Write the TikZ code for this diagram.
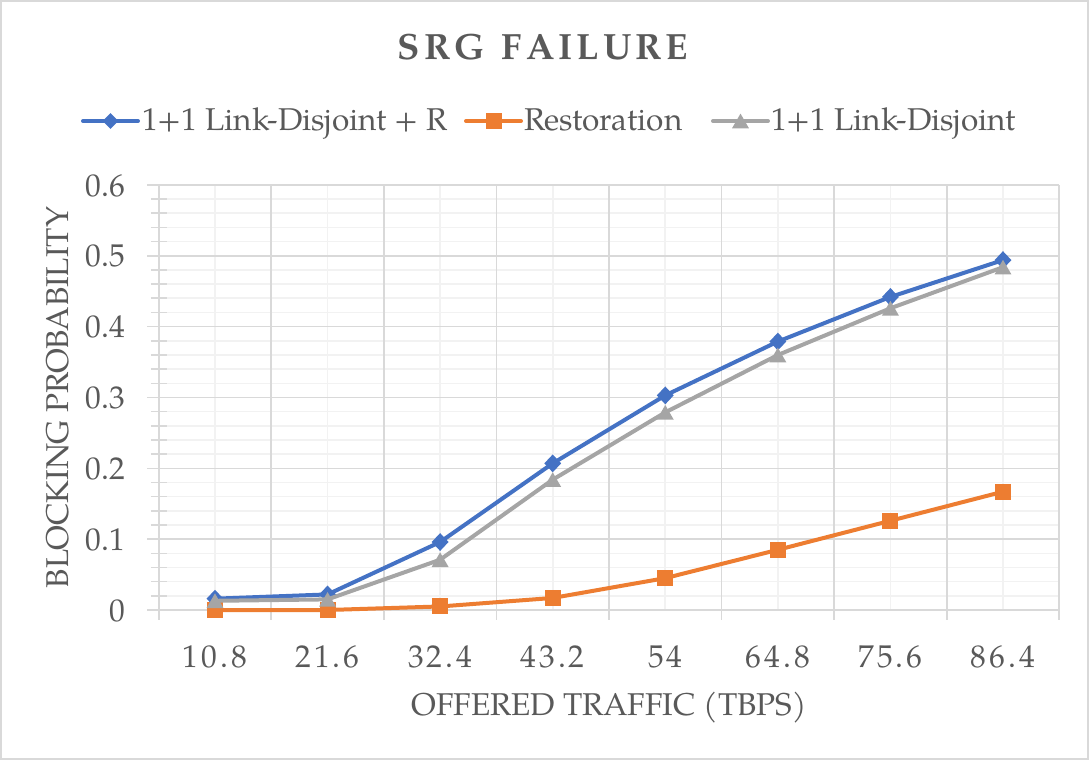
\documentclass[tikz,border=0pt]{standalone}
\usepackage{fontspec}
\setmainfont{TeX Gyre Pagella}
\usetikzlibrary{shapes.geometric}

\definecolor{txt}{HTML}{595959}
\definecolor{gridmaj}{HTML}{D9D9D9}
\definecolor{gridmin}{HTML}{F2F2F2}
\definecolor{serA}{HTML}{4472C4}
\definecolor{serB}{HTML}{ED7D31}
\definecolor{serC}{HTML}{A5A5A5}

\newcommand\tks{\kern3pt}

\tikzset{
  majline/.style={draw=gridmaj, line width=1.6pt},
  minline/.style={draw=gridmin, line width=1.6pt},
  series/.style={line width=4pt, line join=round, line cap=round},
  dmark/.style={diamond, fill=serA, inner sep=0pt, minimum width=17pt, minimum height=18pt},
  smark/.style={rectangle, fill=serB, inner sep=0pt, minimum size=16pt},
  tmark/.style={regular polygon, regular polygon sides=3, fill=serC, inner sep=0pt, minimum size=19.6pt, yshift=-2.4pt},
  lbl/.style={text=txt, inner sep=0pt, font=\fontsize{31.5}{36}\selectfont},
}

\begin{document}
\begin{tikzpicture}[x=1pt, y=-1pt]
\useasboundingbox (0,0) rectangle (1089,761);
\draw[gridmaj, line width=2pt] (1,1) rectangle (1088,759);

% title
\node[text=txt, inner sep=0pt, anchor=base, font=\fontsize{36.5}{40}\selectfont\bfseries] (title) at (543,59)
  {S\kern4pt R\kern4pt G\kern4pt\ \kern4pt F\kern4pt A\kern4pt I\kern4pt L\kern4pt U\kern4pt R\kern4pt E};

% legend
\coordinate (la1) at (83,121);  \coordinate (la2) at (138,121);
\coordinate (lb1) at (466,121); \coordinate (lb2) at (521,121);
\coordinate (lc1) at (713,121); \coordinate (lc2) at (768,121);
\draw[series, serA] (la1) -- (la2);
\node[dmark, minimum width=16pt, minimum height=16pt] (lma) at (110.5,121) {};
\node[lbl, anchor=base west] (lta) at (142,130) {1+1 Link-Disjoint + R};
\draw[series, serB] (lb1) -- (lb2);
\node[smark] (lmb) at (493.5,121) {};
\node[lbl, anchor=base west] (ltb) at (524,130) {Restoration};
\draw[series, serC] (lc1) -- (lc2);
\node[tmark] (lmc) at (740.5,121) {};
\node[lbl, anchor=base west] (ltc) at (771,130) {1+1 Link-Disjoint};

% axis titles
\node[lbl, anchor=base] (xtitle) at (609,715) {OFFERED TRAFFIC (TBPS)};
\node[lbl, anchor=base, rotate=90] (ytitle) at (68,397.5) {BLOCKING PROBABILITY};

% y tick labels
\foreach \v/\t in {0/0,1/0.1,2/0.2,3/0.3,4/0.4,5/0.5,6/0.6}
  \node[lbl, anchor=base east] (yl\v) at (125,{610-70.83*\v+11}) {\t};

% plot area: one x unit per category, one y unit per probability
\begin{scope}[shift={(158.7,610)}, x=112.57pt, y=708.3pt]
  % minor grid
  \foreach \k in {1,...,29} {
    \draw[minline] (0,\k*0.02) -- (8,\k*0.02);
  }
  \foreach \i in {0,...,7} \draw[minline] (\i+0.5,0) -- (\i+0.5,0.6);
  % minor ticks on the value axis
  \foreach \k in {1,...,29} \draw[majline] (-0.07,\k*0.02) -- (0.07,\k*0.02);
  % major grid
  \foreach \k in {0,...,6} \draw[majline] (-0.1,\k*0.1) -- (8,\k*0.1);
  \foreach \i in {0,...,8} \draw[majline] (\i,-0.0141) -- (\i,0.6);

  % category labels
  \foreach \t [count=\i] in {1\tks0\tks.\tks8, 2\tks1\tks.\tks6, 3\tks2\tks.\tks4, 4\tks3\tks.\tks2,
                             5\tks4, 6\tks4\tks.\tks8, 7\tks5\tks.\tks6, 8\tks6\tks.\tks4}
    \node[lbl, anchor=base] (xl\i) at (\i-0.5,-0.0805) {\t};

  % data points
  \foreach \v [count=\i] in {0.016,0.022,0.096,0.207,0.303,0.379,0.442,0.494}
    \coordinate (a\i) at (\i-0.5,\v);
  \foreach \v [count=\i] in {0,0,0.005,0.017,0.045,0.085,0.126,0.167}
    \coordinate (b\i) at (\i-0.5,\v);
  \foreach \v [count=\i] in {0.013,0.015,0.071,0.184,0.279,0.360,0.426,0.484}
    \coordinate (c\i) at (\i-0.5,\v);

  \draw[series, serA] (a1) -- (a2) -- (a3) -- (a4) -- (a5) -- (a6) -- (a7) -- (a8);
  \foreach \i in {1,...,8} \node[dmark] (ma\i) at (a\i) {};
  \draw[series, serB] (b1) -- (b2) -- (b3) -- (b4) -- (b5) -- (b6) -- (b7) -- (b8);
  \foreach \i in {1,...,8} \node[smark] (mb\i) at (b\i) {};
  \draw[series, serC] (c1) -- (c2) -- (c3) -- (c4) -- (c5) -- (c6) -- (c7) -- (c8);
  \foreach \i in {1,...,8} \node[tmark] (mc\i) at (c\i) {};
\end{scope}
\end{tikzpicture}
\end{document}
